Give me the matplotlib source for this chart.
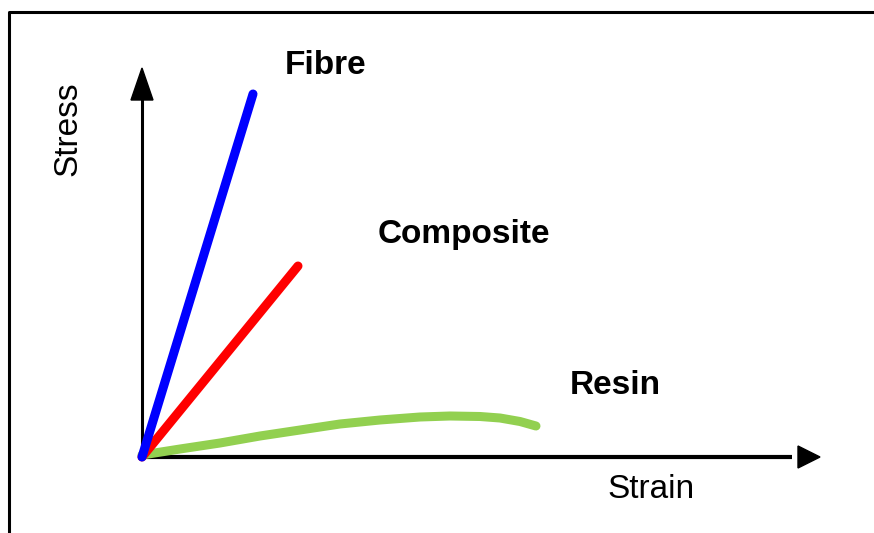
import matplotlib
matplotlib.use("Agg")
import matplotlib.pyplot as plt
from matplotlib.lines import Line2D

# Data (arbitrary units; origin at 0,0)
fibre_strain = [0.0, 1.11]
fibre_stress = [0.0, 3.63]
composite_strain = [0.0, 1.56]
composite_stress = [0.0, 1.91]
resin_strain = [0.0, 0.38, 0.78, 1.18, 1.58, 1.98, 2.38, 2.78, 3.08, 3.38, 3.58, 3.78, 3.94]
resin_stress = [0.02, 0.08, 0.14, 0.21, 0.27, 0.33, 0.37, 0.40, 0.41, 0.405, 0.39, 0.355, 0.31]
labels = ["Fibre", "Composite", "Resin"]
axis_labels = ["Strain", "Stress"]

plt.rcParams['font.family'] = ['Liberation Sans', 'DejaVu Sans']

W, H = 874, 533
fig = plt.figure(figsize=(W / 100, H / 100), dpi=100)
ax = fig.add_axes([0, 0, 1, 1])
ax.set_xlim(-1.42, (W - 142) / 100)
ax.set_ylim((457 - H) / 100, 4.57)
ax.axis('off')

# Frame (left and top)
fig.add_artist(Line2D([9 / W, 9 / W, 1.0], [0.0, 1 - 12 / H, 1 - 12 / H],
                      transform=fig.transFigure, color='black', lw=2.2))

# Axes arrows
ax.plot([0, 0], [0, 3.6], color='black', lw=2.2, solid_capstyle='butt', zorder=1)
ax.fill([-0.11, 0.11, 0.0], [3.57, 3.57, 3.89], color='black', zorder=1)
ax.plot([0, 6.5], [0, 0], color='black', lw=3, solid_capstyle='butt', zorder=1)
ax.fill([6.56, 6.56, 6.78], [0.11, -0.11, 0.0], color='black', zorder=1)

# Curves
ax.plot(resin_strain, resin_stress, color='#92D050', lw=6.5, solid_capstyle='round',
        solid_joinstyle='round', zorder=2)
ax.plot(composite_strain, composite_stress, color='#FF0000', lw=6.5, solid_capstyle='round', zorder=3)
ax.plot(fibre_strain, fibre_stress, color='#0000FF', lw=6.5, solid_capstyle='round', zorder=4)

# Labels
ax.text(1.84, 3.91, labels[0], fontsize=24, fontweight='bold', ha='center', va='center')
ax.text(3.22, 2.22, labels[1], fontsize=24, fontweight='bold', ha='center', va='center')
ax.text(4.73, 0.71, labels[2], fontsize=24, fontweight='bold', ha='center', va='center')
ax.text(5.09, -0.33, axis_labels[0], fontsize=24, ha='center', va='center')
ax.text(-0.74, 3.28, axis_labels[1], fontsize=24, ha='center', va='center', rotation=90)

fig.savefig("out.png", dpi=100, facecolor='white')
